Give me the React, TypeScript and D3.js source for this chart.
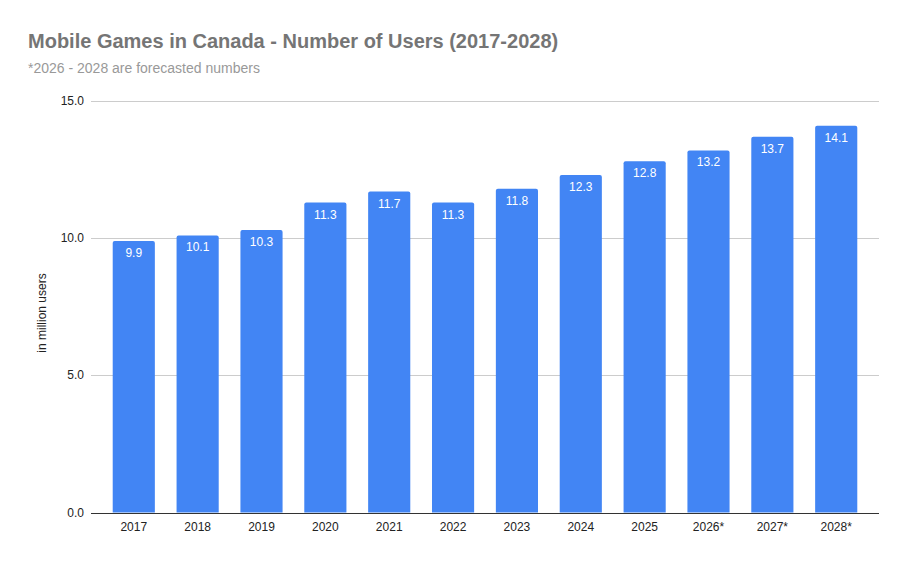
import React, { useEffect, useRef } from 'react';
import * as d3 from 'd3';

const years = ['2017', '2018', '2019', '2020', '2021', '2022', '2023', '2024', '2025', '2026*', '2027*', '2028*'];
const users = [9.9, 10.1, 10.3, 11.3, 11.7, 11.3, 11.8, 12.3, 12.8, 13.2, 13.7, 14.1];
const yTicks = [0, 5, 10, 15];

const W = 908;
const H = 561;

export default function App() {
  const svgRef = useRef<SVGSVGElement>(null);

  useEffect(() => {
    if (!svgRef.current) return;
    const svg = d3.select(svgRef.current);
    svg.selectAll('*').remove();

    const margin = { top: 101, right: 29, bottom: 48.5, left: 91 };
    const x = d3.scaleBand<string>()
      .domain(years)
      .range([margin.left, W - margin.right])
      .paddingInner(0.34)
      .paddingOuter(0.34);
    const y = d3.scaleLinear().domain([0, 15]).range([H - margin.bottom, margin.top]);

    const font = 'Arial, "Liberation Sans", sans-serif';

    svg.append('rect').attr('width', W).attr('height', H).attr('fill', '#fff');

    // title
    svg.append('text')
      .attr('x', 28).attr('y', 48)
      .style('font-family', font).style('font-size', '20px').style('font-weight', 'bold')
      .attr('fill', '#757575')
      .text('Mobile Games in Canada - Number of Users (2017-2028)');
    svg.append('text')
      .attr('x', 28).attr('y', 73)
      .style('font-family', font).style('font-size', '14px')
      .attr('fill', '#999999')
      .text('*2026 - 2028 are forecasted numbers');

    // gridlines
    svg.append('g')
      .selectAll('line')
      .data(yTicks.filter(t => t !== 0))
      .enter().append('line')
      .attr('x1', margin.left).attr('x2', W - margin.right)
      .attr('y1', d => Math.round(y(d)) + 0.5).attr('y2', d => Math.round(y(d)) + 0.5)
      .attr('stroke', '#cccccc');

    // y labels
    svg.append('g')
      .selectAll('text')
      .data(yTicks)
      .enter().append('text')
      .attr('x', 84).attr('y', d => y(d) + 4)
      .attr('text-anchor', 'end')
      .style('font-family', font).style('font-size', '12px')
      .attr('fill', '#222')
      .text(d => d.toFixed(1));

    svg.append('text')
      .attr('transform', `translate(46,313) rotate(-90)`)
      .attr('text-anchor', 'middle')
      .style('font-family', font).style('font-size', '12px')
      .attr('fill', '#222')
      .text('in million users');

    // bars with rounded top corners
    const r = 2;
    svg.append('g')
      .selectAll('path')
      .data(users)
      .enter().append('path')
      .attr('d', (d, i) => {
        const x0 = x(years[i]) || 0;
        const x1 = x0 + x.bandwidth();
        const y0 = y(0);
        const y1 = y(d);
        return `M${x0},${y0}V${y1 + r}Q${x0},${y1} ${x0 + r},${y1}H${x1 - r}Q${x1},${y1} ${x1},${y1 + r}V${y0}Z`;
      })
      .attr('fill', '#4285f4');

    // value labels
    svg.append('g')
      .selectAll('text')
      .data(users)
      .enter().append('text')
      .attr('x', (d, i) => (x(years[i]) || 0) + x.bandwidth() / 2)
      .attr('y', d => y(d) + 16)
      .attr('text-anchor', 'middle')
      .style('font-family', font).style('font-size', '12px')
      .attr('fill', '#ffffff')
      .text(d => d.toFixed(1));

    // baseline
    svg.append('line')
      .attr('x1', margin.left).attr('x2', W - margin.right)
      .attr('y1', Math.round(y(0)) + 0.5).attr('y2', Math.round(y(0)) + 0.5)
      .attr('stroke', '#333333');

    // x labels
    svg.append('g')
      .selectAll('text')
      .data(years)
      .enter().append('text')
      .attr('x', d => (x(d) || 0) + x.bandwidth() / 2)
      .attr('y', y(0) + 18)
      .attr('text-anchor', 'middle')
      .style('font-family', font).style('font-size', '12px')
      .attr('fill', '#222')
      .text(d => d);
  }, []);

  return (
    <svg
      ref={svgRef}
      width={W}
      height={H}
      style={{ position: 'absolute', left: 0, top: 0, display: 'block' }}
    />
  );
}
